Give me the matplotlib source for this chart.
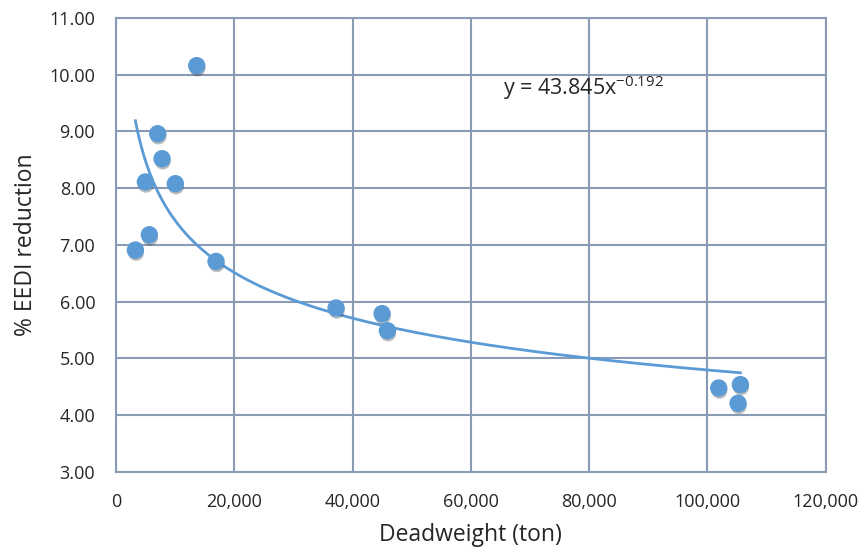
import numpy as np
import matplotlib
matplotlib.use("Agg")
import matplotlib.pyplot as plt
import matplotlib.patheffects as pe
from matplotlib.ticker import FuncFormatter, MultipleLocator

deadweight = [13650, 7050, 7780, 4960, 10030, 5630, 3270, 16910,
              37210, 44990, 45890, 101920, 105580, 105190]
eedi_reduction = [10.16, 8.96, 8.52, 8.11, 8.08, 7.18, 6.91, 6.71,
                  5.89, 5.79, 5.49, 4.48, 4.54, 4.21]
equation_label = "y = 43.845x"
equation_exp = "-0.192"
x_label = "Deadweight (ton)"
y_label = "% EEDI reduction"

plt.rcParams['font.family'] = ['Open Sans', 'DejaVu Sans']

fig = plt.figure(figsize=(8.64, 5.53), dpi=100)
ax = fig.add_axes([0.1343, 0.1465, 0.9556 - 0.1343, 0.9675 - 0.1465])

grid_c = '#8a9bb5'
ax.set_xlim(0, 120000)
ax.set_ylim(3, 11)
ax.xaxis.set_major_locator(MultipleLocator(20000))
ax.yaxis.set_major_locator(MultipleLocator(1))
ax.xaxis.set_major_formatter(FuncFormatter(lambda v, p: f"{int(v):,}"))
ax.yaxis.set_major_formatter(FuncFormatter(lambda v, p: f"{v:.2f}"))
ax.grid(True, color=grid_c, linewidth=1.5)
ax.set_axisbelow(True)
for s in ax.spines.values():
    s.set_color(grid_c)
    s.set_linewidth(1.5)
ax.tick_params(length=0, labelsize=13, labelcolor='#262626', pad=15)

# power trendline fitted on data
x = np.array(deadweight, float)
y = np.array(eedi_reduction, float)
b, lna = np.polyfit(np.log(x), np.log(y), 1)
xs = np.linspace(x.min(), x.max(), 300)
ax.plot(xs, np.exp(lna) * xs ** b, color='#5b9bd5', linewidth=2, zorder=3)

ax.plot(x, y, linestyle='none', marker='o', markersize=11.5,
        markerfacecolor='#5b9bd5', markeredgecolor='#5b9bd5', zorder=4,
        path_effects=[pe.SimplePatchShadow(offset=(0.5, -2.0), alpha=0.3, shadow_rgbFace='#222222'),
                      pe.Normal()])

ax.text(65500, 9.77, equation_label + r"$^{\mathregular{" + equation_exp + "}}$",
        fontsize=15.5, color='#262626', va='center', ha='left')

ax.set_xlabel(x_label, fontsize=16.5, color='#262626', labelpad=9)
ax.set_ylabel(y_label, fontsize=16.5, color='#262626', labelpad=8)

fig.savefig('out.png', dpi=100)
